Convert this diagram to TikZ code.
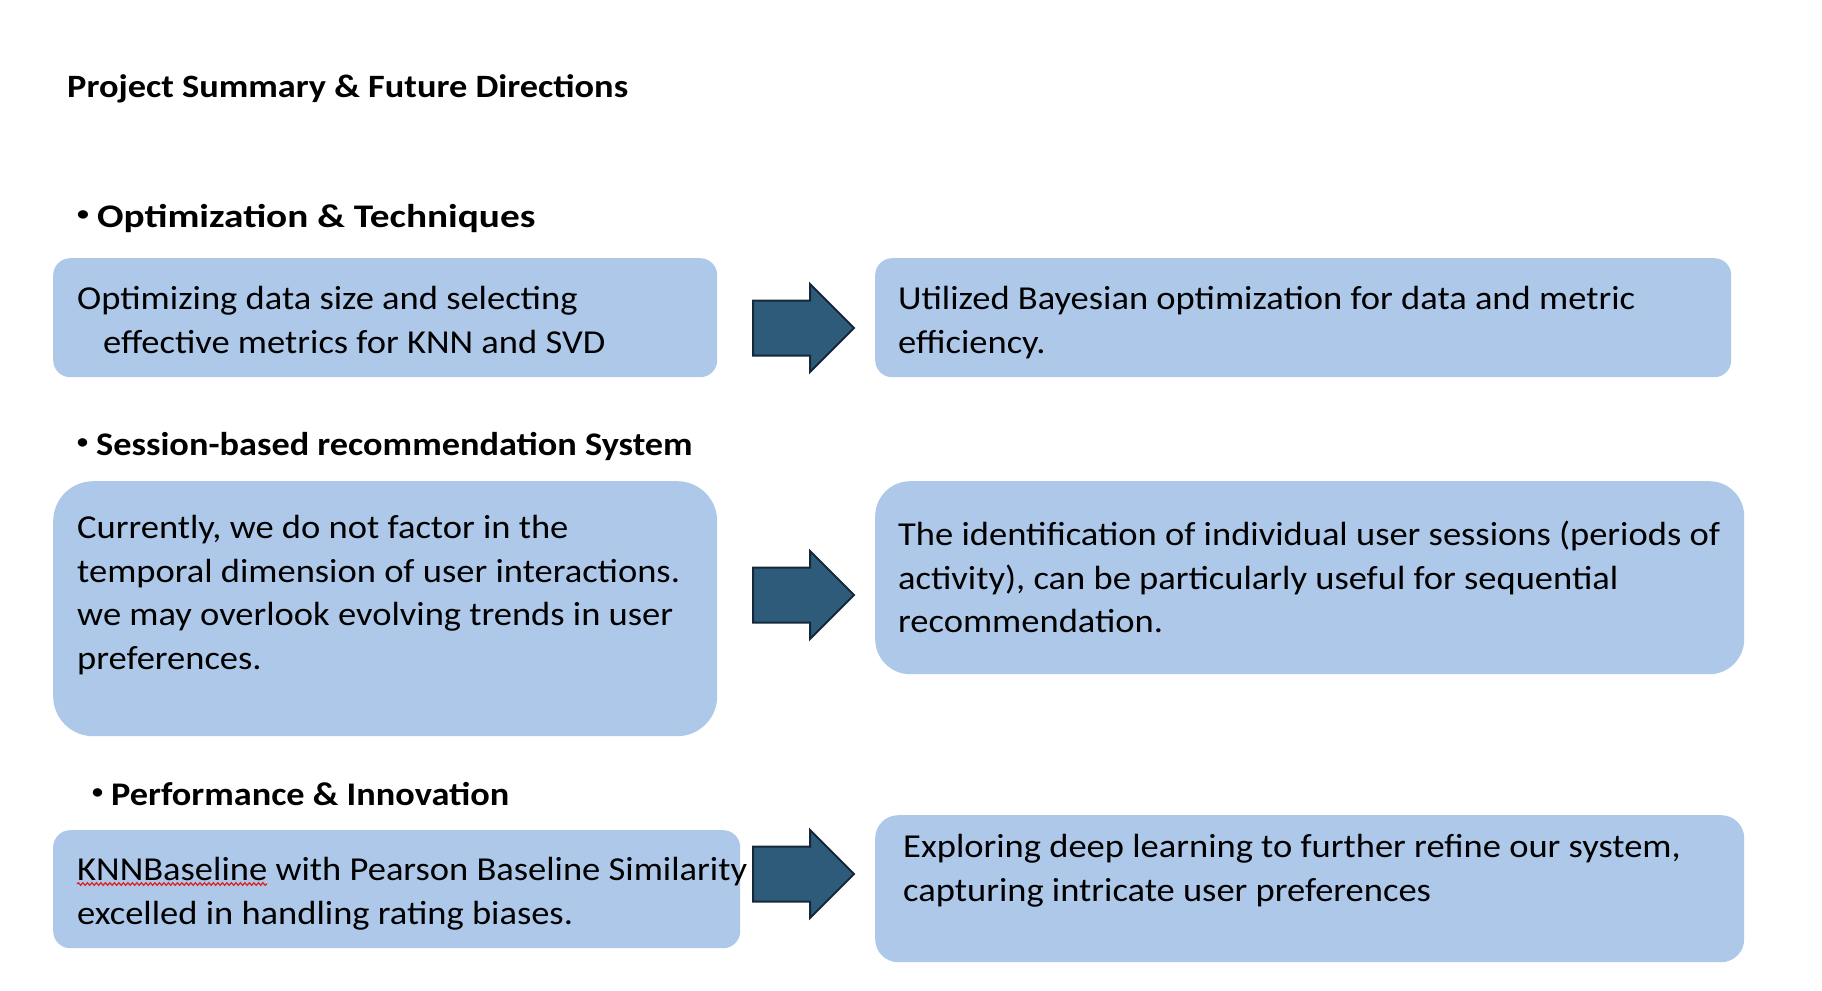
\documentclass[tikz,border=0pt]{standalone}
\usepackage{fontspec}
\setmainfont{Carlito}
\newfontfamily\titlefam[FakeStretch=1.115]{Carlito}
\newfontfamily\headAfam[FakeStretch=1.19]{Carlito}
\newfontfamily\headBfam[FakeStretch=1.10]{Carlito}
\newfontfamily\bodyfam[FakeStretch=1.09]{Carlito}
\usetikzlibrary{shapes.arrows,decorations.pathmorphing,calc}
\definecolor{boxfill}{HTML}{ADC8E8}
\definecolor{arrowfill}{HTML}{2E5B7A}
\definecolor{arrowline}{HTML}{14283A}
\definecolor{wavered}{HTML}{E02020}
\newlength\knnwordwidth
\newcommand\bodyfontsel{\bodyfam\fontsize{33.5}{43.5}\selectfont}
\newcommand\smallbullet{\raisebox{6.5pt}{\fontsize{20}{20}\selectfont•}\hspace{8pt}}
\begin{document}
\settowidth\knnwordwidth{\bodyfontsel KNNBaseline}%
\begin{tikzpicture}[x=1pt,y=-1pt,
  titletext/.style={anchor=base west,inner sep=0pt,font=\titlefam\bfseries\fontsize{32.6}{38}\selectfont},
  headAtext/.style={anchor=base west,inner sep=0pt,font=\headAfam\bfseries\fontsize{33}{40}\selectfont},
  headBtext/.style={anchor=base west,inner sep=0pt,font=\headBfam\bfseries\fontsize{33}{40}\selectfont},
  bodytext/.style={anchor=north west,inner sep=0pt,align=left,font=\bodyfontsel},
  infobox/.style={fill=boxfill,draw=none,inner sep=0pt,anchor=north west},
  blockarrow/.style={single arrow,fill=arrowfill,draw=arrowline,line width=2pt,
     inner xsep=0pt,inner ysep=26.5pt,text height=0pt,text depth=0pt,text width=0pt,
     single arrow head extend=16.5pt,minimum height=101pt,anchor=west},
  spellwave/.style={draw=wavered,line width=1.2pt,decorate,decoration={snake,amplitude=1.3pt,segment length=4.5pt}}
]
\fill[white] (0,0) rectangle (1822,990);
\useasboundingbox (0,0) rectangle (1822,990);

\node[titletext] (title) at (67,97) {Project Summary \& Future Directions};

\node[headAtext] (h1) at (77,227) {\smallbullet Optimization \& Techniques};
\node[headBtext] (h2) at (77,455) {\smallbullet Session-based recommendation System};
\node[headBtext] (h3) at (92,805) {\smallbullet Performance \& Innovation};

% row 1
\node[infobox,minimum width=664pt,minimum height=119pt,rounded corners=17pt] (a1) at (53,258) {};
\node[infobox,minimum width=856pt,minimum height=119pt,rounded corners=17pt] (b1) at (875,258) {};
\node[bodytext] (a1t) at (77,279) {\strut Optimizing data size and selecting\\\hspace{26pt}effective metrics for KNN and SVD};
\node[bodytext] (b1t) at (898,279) {\strut Utilized Bayesian optimization for data and metric\\efficiency.};
\node[blockarrow] (r1) at (752,328) {};

% row 2
\node[infobox,minimum width=664pt,minimum height=255pt,rounded corners=40pt] (a2) at (53,481) {};
\node[infobox,minimum width=869pt,minimum height=193pt,rounded corners=35pt] (b2) at (875,481) {};
\node[bodytext] (a2t) at (77,508) {\strut Currently, we do not factor in the\\temporal dimension of user interactions.\\we may overlook evolving trends in user\\preferences.};
\node[bodytext] (b2t) at (898,515) {\strut The identification of individual user sessions (periods of\\activity), can be particularly useful for sequential\\recommendation.};
\node[blockarrow] (r2) at (752,595) {};

% row 3
\node[infobox,minimum width=687pt,minimum height=118pt,rounded corners=17pt] (a3) at (53,830) {};
\node[infobox,minimum width=869pt,minimum height=147pt,rounded corners=23pt] (b3) at (875,815) {};
\node[bodytext] (a3t) at (77,850) {\strut KNNBaseline with Pearson Baseline Similarity\\excelled in handling rating biases.};
\coordinate (wavestart) at ([yshift=-34pt]a3t.north west);
\coordinate (waveend) at ([xshift=\knnwordwidth,yshift=-34pt]a3t.north west);
\path[spellwave] (wavestart) -- (waveend);
\node[bodytext] (b3t) at (903,827) {\strut Exploring deep learning to further refine our system,\\capturing intricate user preferences};
\node[blockarrow] (r3) at (752,874) {};
\end{tikzpicture}
\end{document}
